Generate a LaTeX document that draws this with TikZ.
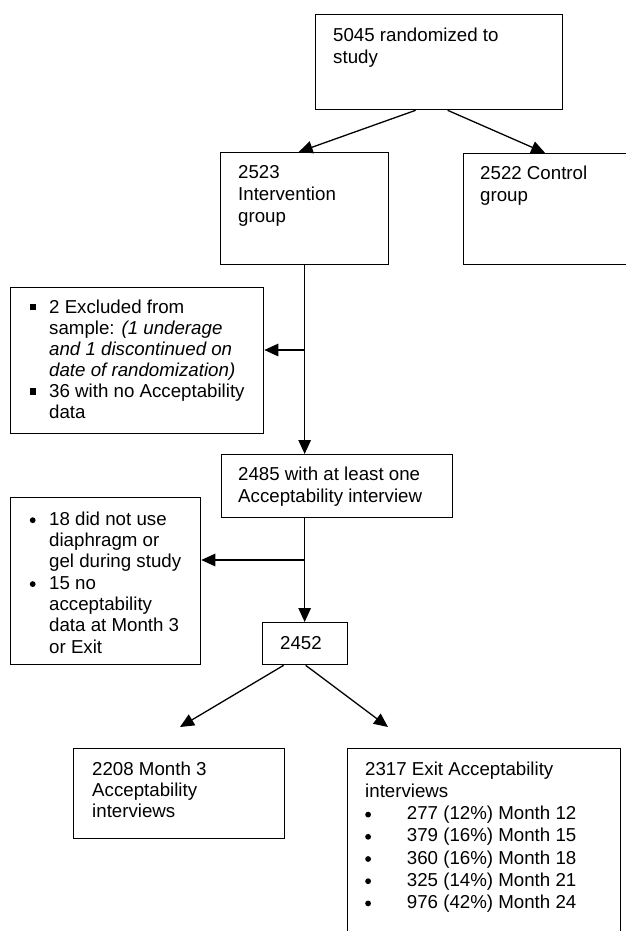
\documentclass[tikz,border=0pt]{standalone}
\usepackage{fontspec}
\setmainfont{Liberation Sans}
\usetikzlibrary{arrows.meta,calc}
\newcommand{\sqbul}{\rule[3pt]{6.3pt}{6.5pt}}
\newcommand{\rdbul}{\tikz[baseline=-5pt]\fill (0,0) circle (2.9pt);}
\newcommand{\fst}{\rule{0pt}{15pt}}
\tikzset{
  box/.style={draw, line width=1.3pt, rectangle, inner sep=0pt, anchor=north west},
  txt/.style={anchor=north west, inner sep=0pt, align=left, font=\fontsize{18.7}{22}\selectfont},
  arr/.style={line width=1.3pt, -{Triangle[length=14pt,width=12.5pt]}},
}
\begin{document}
\begin{tikzpicture}[x=1pt,y=-1pt]
\useasboundingbox (0,0) rectangle (625,931);
% boxes
\node[box, minimum width=247pt, minimum height=95pt] (top) at (315,14) {};
\node[box, minimum width=168pt, minimum height=112pt] (int) at (220,152) {};
\node[box, minimum width=180pt, minimum height=111pt] (ctl) at (463,153) {};
\node[box, minimum width=253pt, minimum height=146pt] (lb1) at (10,287) {};
\node[box, minimum width=231pt, minimum height=63pt] (r2485) at (221,454) {};
\node[box, minimum width=190pt, minimum height=167pt] (lb2) at (10,497) {};
\node[box, minimum width=85pt, minimum height=42pt] (n2452) at (262,622) {};
\node[box, minimum width=211pt, minimum height=90pt] (m3) at (73,748) {};
\node[box, minimum width=273pt, minimum height=250pt] (ex) at (347,748) {};
% texts
\node[txt] (ttop) at (333,26) {\fst 5045 randomized to\\study};
\node[txt] (tint) at (238,163) {\fst 2523\\Intervention\\group};
\node[txt] (tctl) at (480,164) {\fst 2522 Control\\group};
\node[txt, font=\fontsize{18.7}{21.1}\selectfont] (tlb1) at (29.3,298) {\fst\makebox[19.7pt][l]{\sqbul}2 Excluded from\\
\hspace*{19.7pt}sample: \textit{(1 underage}\\
\hspace*{19.7pt}\textit{and 1 discontinued on}\\
\hspace*{19.7pt}\textit{date of randomization)}\\
\makebox[19.7pt][l]{\sqbul}36 with no Acceptability\\
\hspace*{19.7pt}data};
\node[txt] (t2485) at (238,465) {\fst 2485 with at least one\\Acceptability interview};
\node[txt, font=\fontsize{18.7}{21.3}\selectfont] (tlb2) at (29.6,510) {\fst\makebox[19.4pt][l]{\rdbul}18 did not use\\
\hspace*{19.4pt}diaphragm or\\
\hspace*{19.4pt}gel during study\\
\makebox[19.4pt][l]{\rdbul}15 no\\
\hspace*{19.4pt}acceptability\\
\hspace*{19.4pt}data at Month 3\\
\hspace*{19.4pt}or Exit};
\node[txt] (t2452) at (280,634) {\fst 2452};
\node[txt, font=\fontsize{18.7}{21}\selectfont] (tm3) at (92,760) {\fst 2208 Month 3\\Acceptability\\interviews};
\node[txt, font=\fontsize{18.7}{22.2}\selectfont] (tex) at (365,760) {\fst 2317 Exit Acceptability\\interviews\\
\makebox[41.7pt][l]{\rdbul}277 (12\%) Month 12\\
\makebox[41.7pt][l]{\rdbul}379 (16\%) Month 15\\
\makebox[41.7pt][l]{\rdbul}360 (16\%) Month 18\\
\makebox[41.7pt][l]{\rdbul}325 (14\%) Month 21\\
\makebox[41.7pt][l]{\rdbul}976 (42\%) Month 24};
% connectors
\draw[arr] ([xshift=-23.5pt]top.south) -- ([xshift=-6pt]int.north);
\draw[arr] ([xshift=8.5pt]top.south) -- ([xshift=-8.5pt]ctl.north);
\draw[arr] (int.south) -- (int.south |- r2485.north);
\coordinate (b1) at (304,350);
\draw[arr] (b1) -- (b1 -| lb1.east);
\draw[arr] (r2485.south -| int.south) -- (n2452.north -| int.south);
\coordinate (b2) at (304,560);
\draw[arr] (b2) -- (b2 -| lb2.east);
\coordinate (e1) at (180,727);
\coordinate (e2) at (388,727);
\draw[arr] ([xshift=-21.5pt]n2452.south) -- (e1);
\draw[arr] ([xshift=0.5pt]n2452.south) -- (e2);
\end{tikzpicture}
\end{document}
